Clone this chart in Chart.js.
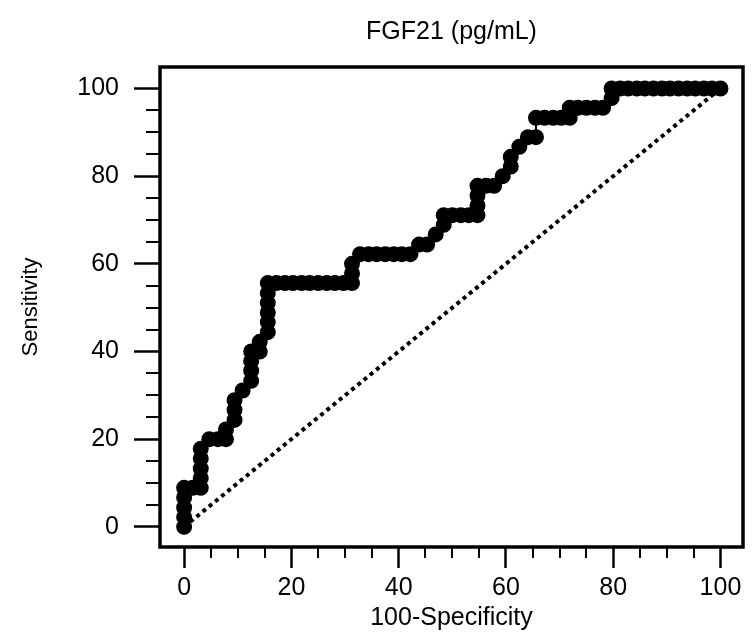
<!DOCTYPE html>
<html>
<head>
<meta charset="utf-8">
<script src="https://cdn.jsdelivr.net/npm/chart.js@4/dist/chart.umd.min.js"></script>
<style>
  html, body { margin: 0; padding: 0; background: #fff; }
  canvas { display: block; }
</style>
</head>
<body>
<canvas id="roc" width="752" height="632"></canvas>
<script>
// ROC points (100-Specificity, Sensitivity)
const fpr = [
  0, 0, 0, 0, 0,
  1.6, 3.1,
  3.1, 3.1, 3.1, 3.1,
  4.7, 6.3, 7.8, 7.8,
  9.4, 9.4, 9.4,
  10.9,
  12.5, 12.5, 12.5, 12.5,
  14.1, 14.1,
  15.6, 15.6, 15.6, 15.6, 15.6, 15.6,
  17.2, 18.8, 20.3, 21.9, 23.4, 25.0, 26.6, 28.1, 29.7, 31.3,
  31.3, 31.3,
  32.8, 34.4, 35.9, 37.5, 39.1, 40.6, 42.2,
  43.8, 45.3,
  46.9,
  48.4, 48.4,
  50.0, 51.6, 53.1, 54.7,
  54.7, 54.7, 54.7,
  56.3, 57.8,
  59.4, 60.9, 60.9,
  62.5,
  64.1, 65.6,
  65.6, 67.2, 68.8, 70.3, 71.9,
  71.9, 73.4, 75.0, 76.6, 78.1,
  79.7, 79.7,
  81.3, 82.8, 84.4, 85.9, 87.5, 89.1, 90.6, 92.2, 93.8, 95.3, 96.9, 98.4, 100
];
const sensitivity = [
  0, 2.2, 4.4, 6.7, 8.9,
  8.9, 8.9,
  11.1, 13.3, 15.6, 17.8,
  20.0, 20.0, 20.0, 22.2,
  24.4, 26.7, 28.9,
  31.1,
  33.3, 35.6, 37.8, 40.0,
  40.0, 42.2,
  44.4, 46.7, 48.9, 51.1, 53.3, 55.6,
  55.6, 55.6, 55.6, 55.6, 55.6, 55.6, 55.6, 55.6, 55.6, 55.6,
  57.8, 60.0,
  62.2, 62.2, 62.2, 62.2, 62.2, 62.2, 62.2,
  64.4, 64.4,
  66.7,
  68.9, 71.1,
  71.1, 71.1, 71.1, 71.1,
  73.3, 75.6, 77.8,
  77.8, 77.8,
  80.0, 82.2, 84.4,
  86.7,
  88.9, 88.9,
  93.3, 93.3, 93.3, 93.3, 93.3,
  95.6, 95.6, 95.6, 95.6, 95.6,
  97.8, 100,
  100, 100, 100, 100, 100, 100, 100, 100, 100, 100, 100, 100, 100
];
const refX = [0, 100];
const refY = [0, 100];

const xTicks = [0, 20, 40, 60, 80, 100];
const xTickLabels = ['0', '20', '40', '60', '80', '100'];
const yTicks = [0, 20, 40, 60, 80, 100];
const yTickLabels = ['0', '20', '40', '60', '80', '100'];
const xMinorTicks = [5, 10, 15, 25, 30, 35, 45, 50, 55, 65, 70, 75, 85, 90, 95];
const yMinorTicks = [5, 10, 15, 25, 30, 35, 45, 50, 55, 65, 70, 75, 85, 90, 95];

const sans = "'Liberation Sans', Arial, sans-serif";

// box around the plot + short minor ticks
const frameAndMinorTicks = {
  id: 'frameAndMinorTicks',
  afterDraw(chart) {
    const { ctx, chartArea: a, scales: { x, y } } = chart;
    ctx.save();
    ctx.strokeStyle = '#000';
    ctx.lineWidth = 2;
    ctx.beginPath();
    xMinorTicks.forEach(v => {
      const px = Math.round(x.getPixelForValue(v));
      ctx.moveTo(px, a.bottom);
      ctx.lineTo(px, a.bottom + 11);
    });
    yMinorTicks.forEach(v => {
      const py = Math.round(y.getPixelForValue(v));
      ctx.moveTo(a.left, py);
      ctx.lineTo(a.left - 14, py);
    });
    ctx.stroke();
    ctx.lineWidth = 3.5;
    ctx.strokeRect(a.left, a.top, a.right - a.left, a.bottom - a.top);
    ctx.restore();
  }
};

new Chart(document.getElementById('roc'), {
  type: 'scatter',
  data: {
    datasets: [
      {
        label: 'FGF21',
        data: fpr.map((v, i) => ({ x: v, y: sensitivity[i] })),
        showLine: true,
        borderColor: '#000',
        borderWidth: 2,
        backgroundColor: '#000',
        pointBackgroundColor: '#000',
        pointBorderColor: '#000',
        pointRadius: 7,
        pointBorderWidth: 2,
        order: 0
      },
      {
        label: 'Reference',
        data: refX.map((v, i) => ({ x: v, y: refY[i] })),
        showLine: true,
        borderColor: '#000',
        borderWidth: 4,
        borderDash: [4, 4],
        pointRadius: 0,
        order: 1
      }
    ]
  },
  options: {
    responsive: false,
    animation: false,
    layout: { padding: { left: 0, right: 2, top: 0, bottom: 0 } },
    plugins: {
      legend: { display: false },
      tooltip: { enabled: false },
      title: {
        display: true,
        text: 'FGF21 (pg/mL)',
        fullSize: false,
        color: '#000',
        font: { family: sans, size: 25, weight: 'normal' },
        padding: { top: 17, bottom: 20 }
      }
    },
    scales: {
      x: {
        type: 'linear',
        min: -4.5,
        max: 104.2,
        afterBuildTicks: s => { s.ticks = xTicks.map(v => ({ value: v })); },
        afterFit: s => { s.height = 85; },
        ticks: {
          color: '#000',
          font: { family: sans, size: 25 },
          padding: 5,
          callback: v => xTickLabels[xTicks.indexOf(v)]
        },
        grid: { drawOnChartArea: false, drawTicks: true, tickLength: 21, tickWidth: 2.5, tickColor: '#000' },
        border: { display: false },
        title: {
          display: true,
          text: '100-Specificity',
          color: '#000',
          font: { family: sans, size: 25 },
          padding: { top: 0, bottom: -1 }
        }
      },
      y: {
        type: 'linear',
        min: -4.6,
        max: 104.9,
        afterBuildTicks: s => { s.ticks = yTicks.map(v => ({ value: v })); },
        afterFit: s => { s.width = 160; },
        ticks: {
          color: '#000',
          font: { family: sans, size: 25 },
          padding: 15,
          callback: v => yTickLabels[yTicks.indexOf(v)]
        },
        grid: { drawOnChartArea: false, drawTicks: true, tickLength: 26, tickWidth: 2.5, tickColor: '#000' },
        border: { display: false },
        title: {
          display: true,
          text: 'Sensitivity',
          color: '#000',
          font: { family: sans, size: 22 },
          padding: { top: 18, bottom: 0 }
        }
      }
    }
  },
  plugins: [frameAndMinorTicks]
});
</script>
</body>
</html>
